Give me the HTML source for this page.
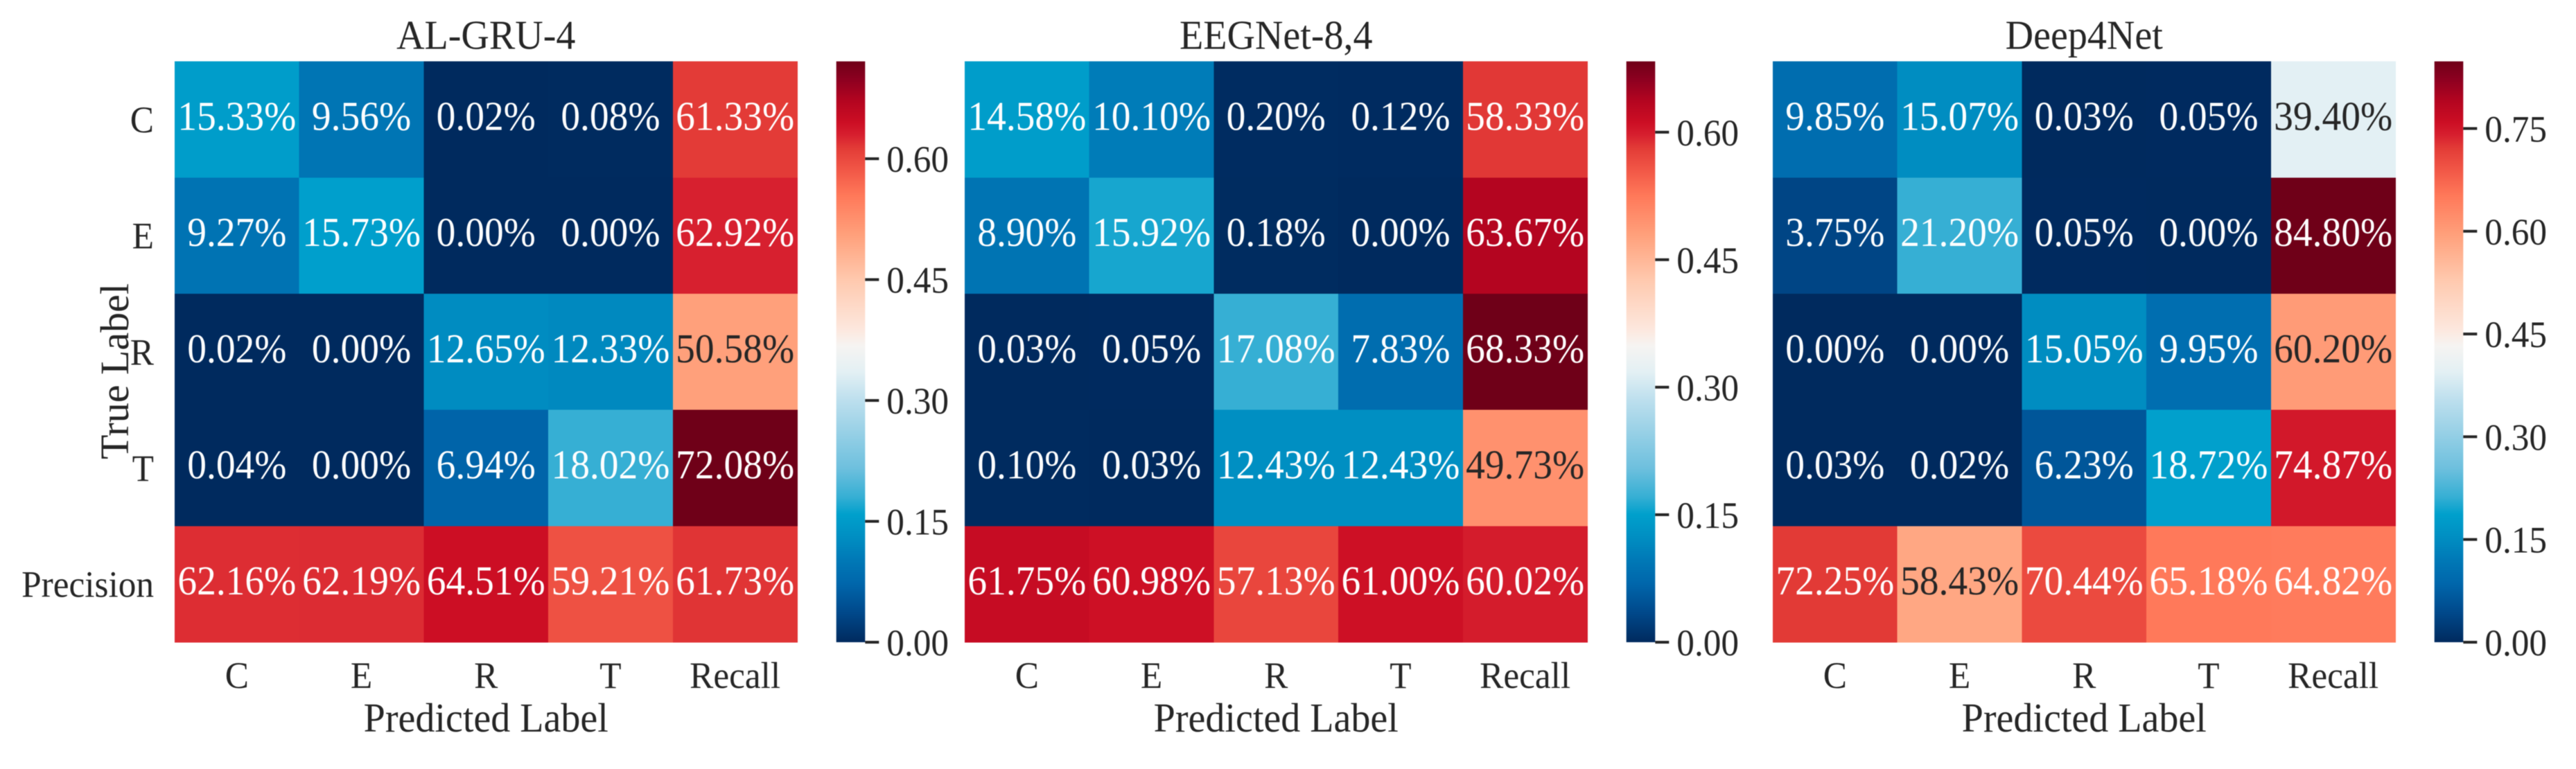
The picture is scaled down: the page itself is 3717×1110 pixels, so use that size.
<!DOCTYPE html>
<html lang="en">
<head>
<meta charset="utf-8">
<title>Confusion matrices</title>
<style>
html,body{margin:0;padding:0;background:#fff;width:3717px;height:1110px;overflow:hidden}
svg{display:block;filter:blur(0.6px)}
text{font-family:"Liberation Serif","Times New Roman",serif}
</style>
</head>
<body>
<svg id="chart" xmlns="http://www.w3.org/2000/svg" width="3717" height="1110" viewBox="0 0 3717 1110">
<rect x="0" y="0" width="3717" height="1110" fill="#ffffff"/>
</svg>
<script>
// ---- data ----
const predictedLabels = ['C', 'E', 'R', 'T', 'Recall'];
const trueLabels = ['C', 'E', 'R', 'T', 'Precision'];
const modelTitles = ['AL-GRU-4', 'EEGNet-8,4', 'Deep4Net'];

const alGruValues = [
  [15.33, 9.56, 0.02, 0.08, 61.33],
  [9.27, 15.73, 0.00, 0.00, 62.92],
  [0.02, 0.00, 12.65, 12.33, 50.58],
  [0.04, 0.00, 6.94, 18.02, 72.08],
  [62.16, 62.19, 64.51, 59.21, 61.73]
];
const eegNetValues = [
  [14.58, 10.10, 0.20, 0.12, 58.33],
  [8.90, 15.92, 0.18, 0.00, 63.67],
  [0.03, 0.05, 17.08, 7.83, 68.33],
  [0.10, 0.03, 12.43, 12.43, 49.73],
  [61.75, 60.98, 57.13, 61.00, 60.02]
];
const deep4NetValues = [
  [9.85, 15.07, 0.03, 0.05, 39.40],
  [3.75, 21.20, 0.05, 0.00, 84.80],
  [0.00, 0.00, 15.05, 9.95, 60.20],
  [0.03, 0.02, 6.23, 18.72, 74.87],
  [72.25, 58.43, 70.44, 65.18, 64.82]
];
const alGruTicks = [0.00, 0.15, 0.30, 0.45, 0.60];
const eegNetTicks = [0.00, 0.15, 0.30, 0.45, 0.60];
const deep4NetTicks = [0.00, 0.15, 0.30, 0.45, 0.60, 0.75];

const allMatrices = [alGruValues, eegNetValues, deep4NetValues];
const allTicks = [alGruTicks, eegNetTicks, deep4NetTicks];

// ---- colour scale (fraction along scale, colour) ----
const colorScale = [
  [0.00, '#002a5e'], [0.05, '#00488a'], [0.10, '#0066ab'], [0.14, '#0078b6'],
  [0.18, '#008ec2'], [0.22, '#00a0cc'], [0.25, '#36afd4'], [0.30, '#6ec0de'],
  [0.42, '#bfe0ee'], [0.465, '#e3f0f4'], [0.51, '#f6f4f2'], [0.54, '#fde7dd'],
  [0.624, '#ffc9ae'], [0.70, '#ffa17c'], [0.77, '#ff7859'], [0.82, '#ef5244'],
  [0.85, '#e33c37'], [0.873, '#d7202f'], [0.895, '#cc0e24'], [0.932, '#b40520'],
  [0.97, '#8c0020'], [1.00, '#6f0018']
];

// ---- layout ----
const SVG_NS = 'http://www.w3.org/2000/svg';
const svg = document.getElementById('chart');
const TOP = 88.6, BOTTOM = 927, PANEL_W = 898.5, CBAR_GAP = 954.7, CBAR_W = 41.6;
const leftOf = [252, 1392, 2558];
const CELL_H = (BOTTOM - TOP) / 5;
const CELL_W = PANEL_W / 5;

function hexToRgb(h) {
  return [parseInt(h.slice(1, 3), 16), parseInt(h.slice(3, 5), 16), parseInt(h.slice(5, 7), 16)];
}
function colorAt(t) {
  t = Math.max(0, Math.min(1, t));
  for (let i = 1; i < colorScale.length; i++) {
    if (t <= colorScale[i][0]) {
      const a = colorScale[i - 1], b = colorScale[i];
      const f = (t - a[0]) / (b[0] - a[0]);
      const ca = hexToRgb(a[1]), cb = hexToRgb(b[1]);
      return 'rgb(' + ca.map((v, k) => Math.round(v + (cb[k] - v) * f)).join(',') + ')';
    }
  }
  return colorScale[colorScale.length - 1][1];
}
function make(tag, attrs, parent) {
  const el = document.createElementNS(SVG_NS, tag);
  for (const k in attrs) el.setAttribute(k, attrs[k]);
  parent.appendChild(el);
  return el;
}
function label(str, x, y, size, anchor, fill, parent, sx, rot) {
  const tf = 'translate(' + x + ',' + y + ')' + (rot ? ' rotate(' + rot + ')' : '') + ' scale(' + sx + ',1)';
  const el = make('text', {transform: tf, 'font-size': size, 'text-anchor': anchor, fill: fill}, parent);
  el.textContent = str;
  return el;
}

// shared gradient for colour bars
const defs = make('defs', {}, svg);
const grad = make('linearGradient', {id: 'cbar-gradient', x1: 0, y1: 1, x2: 0, y2: 0}, defs);
colorScale.forEach(function (s) {
  make('stop', {offset: s[0], 'stop-color': s[1]}, grad);
});

allMatrices.forEach(function (matrix, p) {
  const left = leftOf[p];
  const vmax = Math.max.apply(null, matrix.map(r => Math.max.apply(null, r))) / 100;
  const xCenter = c => left + (c + 0.5) * CELL_W;
  const yCenter = r => TOP + (r + 0.5) * CELL_H;
  const yScale = v => BOTTOM - (v / vmax) * (BOTTOM - TOP);

  const panel = make('g', {}, svg);
  
  

  const title = label(modelTitles[p], left + PANEL_W / 2, 70.7, 59, 'middle', '#262626', panel, 0.95);
  
  

  matrix.forEach(function (row, r) {
    row.forEach(function (value, c) {
      const t = value / 100 / vmax;
      const cell = make('rect', {
        x: left + c * CELL_W, y: TOP + r * CELL_H,
        width: CELL_W + 0.5, height: CELL_H + 0.5,
        fill: colorAt(t), 'shape-rendering': 'crispEdges'
      }, panel);
      
      
    });
  });
  matrix.forEach(function (row, r) {
    row.forEach(function (value, c) {
      const t = value / 100 / vmax;
      const ink = (t > 0.30 && t < 0.74) ? '#262626' : '#ffffff';
      const txt = label(value.toFixed(2) + '%', xCenter(c), yCenter(r) + 15, 59, 'middle', ink, panel, 0.94);
      
      
    });
  });

  predictedLabels.forEach(function (name, c) {
    const tick = label(name, xCenter(c), 993, 54, 'middle', '#262626', panel, 0.95);
    
    
  });

  const xTitle = label('Predicted Label', left + PANEL_W / 2, 1056, 59, 'middle', '#262626', panel, 0.95);
  
  

  if (p === 0) {
    trueLabels.forEach(function (name, r) {
      const tick = label(name, 222, yCenter(r) + 18.5, 54, 'end', '#262626', panel, 0.95);
      
      
    });
    const yTitle = label('True Label', 185, 536, 58, 'middle', '#262626', panel, 1, -90);
    
    
  }

  const cbarX = left + CBAR_GAP;
  const bar = make('rect', {
    x: cbarX, y: TOP, width: CBAR_W, height: BOTTOM - TOP, fill: 'url(#cbar-gradient)'
  }, panel);
  
  

  allTicks[p].forEach(function (v) {
    const y = yScale(v);
    const mark = make('rect', {
      x: cbarX + CBAR_W, y: y - 2, width: 20, height: 4, fill: '#262626'
    }, panel);
    
    
    const lab = label(v.toFixed(2), cbarX + CBAR_W + 31, y + 19, 54, 'start', '#262626', panel, 0.95);
    
    
  });
});
</script>
</body>
</html>
